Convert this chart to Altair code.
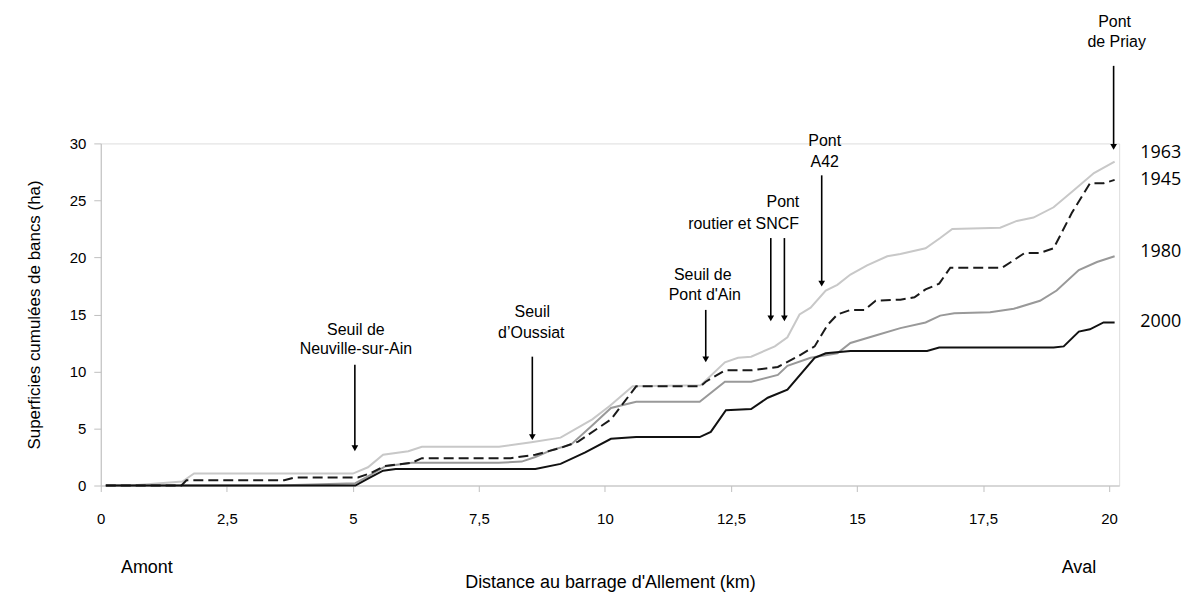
import altair as alt
import pandas as pd

# ---- series (km, ha) ----
x_1963 = [0.1, 0.6, 1.62, 1.85, 5.0, 5.3, 5.6, 6.1, 6.37, 7.9, 8.54, 9.12, 9.75, 10.1, 10.55, 11.9,
          12.38, 12.64, 12.9, 13.37, 13.62, 13.86, 14.08, 14.38, 14.61, 14.87, 15.2, 15.6, 15.86,
          16.36, 16.65, 16.89, 17.84, 18.17, 18.5, 18.9, 19.3, 19.7, 20.11]
y_1963 = [0, 0, 0.35, 1.05, 1.05, 1.6, 2.7, 3.0, 3.4, 3.4, 3.8, 4.2, 5.8, 7.0, 8.7, 8.8,
          10.8, 11.2, 11.3, 12.2, 13.0, 15.0, 15.6, 17.1, 17.6, 18.5, 19.3, 20.1, 20.3,
          20.8, 21.7, 22.5, 22.6, 23.2, 23.5, 24.4, 25.9, 27.4, 28.4]

x_1945 = [0.1, 1.6, 1.7, 3.64, 3.84, 5.1, 5.36, 5.62, 6.17, 6.37, 8.13, 8.62, 9.12, 9.47, 10.12,
          10.62, 11.9, 12.0, 12.38, 12.9, 13.43, 13.82, 14.16, 14.42, 14.61, 14.87, 15.15, 15.37,
          15.86, 16.14, 16.36, 16.63, 16.85, 17.88, 18.33, 18.63, 18.9, 19.26, 19.62, 19.89, 20.11]
y_1945 = [0, 0, 0.46, 0.46, 0.7, 0.7, 1.1, 1.7, 2.0, 2.4, 2.4, 2.7, 3.3, 3.85, 5.8,
          8.7, 8.7, 9.1, 10.1, 10.1, 10.4, 11.3, 12.2, 14.1, 15.0, 15.4, 15.4, 16.2,
          16.3, 16.5, 17.2, 17.7, 19.1, 19.1, 20.4, 20.4, 20.8, 23.9, 26.5, 26.5, 26.8]

x_1980 = [0.1, 3.5, 5.05, 5.3, 5.65, 6.17, 7.89, 8.35, 8.62, 8.94, 9.33, 9.73, 10.12, 10.62,
          11.88, 12.38, 12.9, 13.43, 13.62, 14.08, 14.61, 14.87, 15.4, 15.86, 16.36, 16.65,
          16.93, 17.64, 18.11, 18.63, 18.96, 19.4, 19.76, 20.11]
y_1980 = [0, 0, 0.2, 0.8, 1.7, 2.0, 2.0, 2.1, 2.5, 3.1, 3.6, 5.2, 6.8, 7.35,
          7.35, 9.1, 9.1, 9.7, 10.5, 11.2, 11.6, 12.5, 13.2, 13.8, 14.3, 14.9,
          15.1, 15.2, 15.5, 16.2, 17.1, 18.9, 19.6, 20.1]

x_2000 = [0.1, 5.05, 5.3, 5.6, 5.85, 8.62, 9.12, 9.61, 10.12, 10.62, 11.88, 12.1, 12.4, 12.9,
          13.23, 13.62, 14.16, 14.38, 14.87, 16.39, 16.63, 18.9, 19.1, 19.4, 19.62, 19.89, 20.11]
y_2000 = [0, 0, 0.6, 1.3, 1.45, 1.45, 1.9, 2.9, 4.1, 4.25, 4.25, 4.7, 6.6, 6.7,
          7.7, 8.4, 11.2, 11.6, 11.8, 11.8, 12.1, 12.1, 12.2, 13.5, 13.7, 14.3, 14.3]

# ---- axis ticks ----
x_ticks = [0, 2.5, 5, 7.5, 10, 12.5, 15, 17.5, 20]
y_ticks = [0, 5, 10, 15, 20, 25, 30]

# ---- annotations ----
arrow_km = [5.04, 8.56, 12.0, 13.29, 13.56, 14.3, 20.09]
arrow_top = [10.6, 11.3, 15.4, 21.7, 21.7, 27.2, 36.8]
arrow_tip = [2.97, 3.94, 10.76, 14.35, 14.35, 17.4, 29.4]

note_text = ["Seuil de", "Neuville-sur-Ain", "Seuil", "d\u2019Oussiat", "Seuil de", "Pont d'Ain",
             "Pont", "routier et SNCF", "Pont", "A42", "Pont", "de Priay"]
note_km = [5.06, 5.06, 8.56, 8.54, 11.94, 11.98, 13.53, 12.75, 14.36, 14.36, 20.11, 20.15]
note_ha = [13.65, 11.99, 15.2, 13.4, 18.46, 16.71, 24.85, 22.92, 30.18, 28.35, 40.68, 38.85]

year_text = ["1963", "1945", "1980", "2000"]
year_km = [20.62, 20.62, 20.62, 20.62]
year_ha = [29.2, 26.8, 20.5, 14.35]

side_text = ["Amont", "Aval"]
side_km = [0.40, 19.06]
side_ha = [-7.2, -7.2]

# ---- tables ----
def frame(name, xs, ys):
    return pd.DataFrame({"km": xs, "ha": ys, "year": name})

df = pd.concat([frame("1963", x_1963, y_1963), frame("1945", x_1945, y_1945),
                frame("1980", x_1980, y_1980), frame("2000", x_2000, y_2000)], ignore_index=True)
arrows = pd.DataFrame({"km": arrow_km, "ha": arrow_top,
                       "ha2": [t + 0.3 for t in arrow_tip], "head": [t + 0.3 for t in arrow_tip]})
notes = pd.DataFrame({"km": note_km, "ha": note_ha, "txt": note_text})
years = pd.DataFrame({"km": year_km, "ha": year_ha, "txt": year_text})
sides = pd.DataFrame({"km": side_km, "ha": side_ha, "txt": side_text})

FONT = "Liberation Sans"
AX = "#c0c0c0"

X = alt.X("km:Q", scale=alt.Scale(domain=[0, 20.2], nice=False, zero=False),
          axis=alt.Axis(values=x_ticks, grid=False,
                        labelExpr="replace(format(datum.value, '.1~f'), '.', ',')",
                        title="Distance au barrage d'Allement (km)", titleFont=FONT, titleFontSize=18,
                        titleFontWeight="normal", titleColor="black", titlePadding=47,
                        labelFont=FONT, labelFontSize=15, labelColor="black", labelPadding=20,
                        tickSize=6, tickColor=AX, domainColor=AX, labelFlush=False))
Y = alt.Y("ha:Q", scale=alt.Scale(domain=[0, 30], nice=False),
          axis=alt.Axis(values=y_ticks, grid=False, title="Superficies cumulées de bancs (ha)",
                        titleFont=FONT, titleFontSize=17, titleFontWeight="normal", titleColor="black",
                        titlePadding=26, labelFont=FONT, labelFontSize=15, labelColor="black",
                        labelPadding=8, tickSize=7, tickColor=AX, domainColor=AX))

base = alt.Chart(df)

def line(year, color, dash=None):
    kw = dict(color=color, strokeWidth=2, clip=False)
    if dash:
        kw["strokeDash"] = dash
    return base.transform_filter(alt.datum.year == year).mark_line(**kw).encode(x=X, y=Y)

shafts = alt.Chart(arrows).mark_rule(color="black", strokeWidth=1.6).encode(x=X, y=Y, y2="ha2:Q")
heads = alt.Chart(arrows).mark_point(shape="triangle-down", filled=True, color="black", size=45,
                                     opacity=1).encode(x=X, y=alt.Y("head:Q", scale=alt.Scale(domain=[0, 30], nice=False)))
note_layer = alt.Chart(notes).mark_text(font=FONT, fontSize=16, align="center", baseline="middle",
                                        color="black").encode(x=X, y=Y, text="txt:N")
year_layer = alt.Chart(years).mark_text(font="Open Sans", fontSize=18, align="left", baseline="middle",
                                        color="black").encode(x=X, y=Y, text="txt:N")
side_layer = alt.Chart(sides).mark_text(font=FONT, fontSize=18, align="left", baseline="middle",
                                        color="black").encode(x=X, y=Y, text="txt:N")

chart = alt.layer(
    line("1963", "#c8c8c8"),
    line("1980", "#999999"),
    line("1945", "#1a1a1a", [10, 5]),
    line("2000", "#111111"),
    shafts, heads, note_layer, year_layer, side_layer,
).properties(
    width=1021, height=343,
    autosize=alt.AutoSizeParams(type="none"),
    padding={"left": 93, "top": 135, "right": 62, "bottom": 107},
).configure_view(stroke=None).configure(background="white")

chart.save("out.html", embed_options={"renderer": "svg", "actions": False})
